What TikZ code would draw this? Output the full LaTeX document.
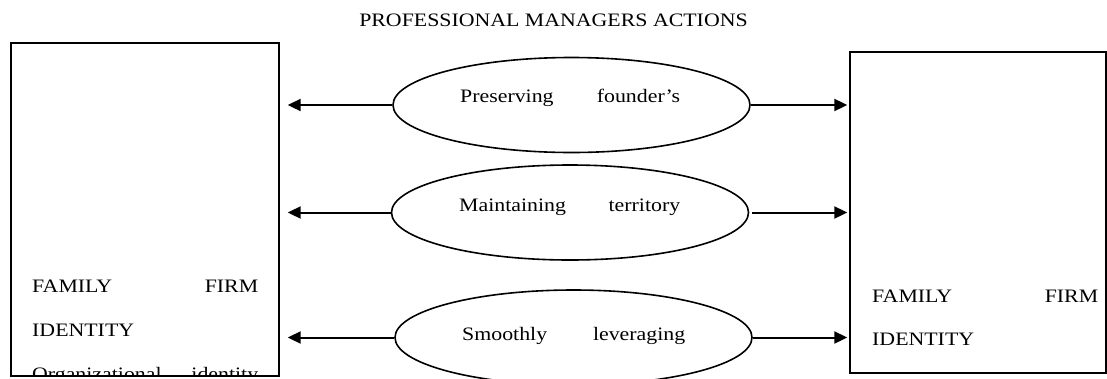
\documentclass[tikz,border=0pt]{standalone}
\usepackage{fontspec}
\setmainfont[FakeStretch=1.15]{Liberation Serif}
\usetikzlibrary{arrows.meta,shapes.geometric}
\tikzset{
  boxnode/.style={draw,line width=1.4pt,rectangle,inner sep=0pt},
  ellnode/.style={draw,line width=1.6pt,ellipse,inner sep=0pt,minimum width=357pt,minimum height=95pt},
  arr/.style={line width=2pt,-{Triangle[length=13pt,width=12pt]}},
  txt/.style={anchor=base west,inner sep=0pt,font=\fontsize{19}{22}\selectfont},
}
\begin{document}
\begin{tikzpicture}[x=1pt,y=-1pt]
\useasboundingbox (0,0) rectangle (1107,378);
\fill[white] (0,0) rectangle (1107,378);
% title
\node[txt,anchor=base] (title) at (553.5,26) {PROFESSIONAL MANAGERS ACTIONS};
% boxes
\node[boxnode,minimum width=268pt,minimum height=333pt] (L) at (145,209.5) {};
\node[boxnode,minimum width=256pt,minimum height=321pt] (R) at (978,212.5) {};
% box texts
\node[txt] (l1) at (32,292) {\hbox to 226pt{FAMILY\hfill FIRM}};
\node[txt] (l2) at (32,336) {IDENTITY};
\begin{scope}
\clip (12,44) rectangle (278,374);
\node[txt] (l3) at (32,380) {\hbox to 226pt{Organizational\hfill identity}};
\end{scope}
\node[txt] (r1) at (872,302) {\hbox to 226pt{FAMILY\hfill FIRM}};
\node[txt] (r2) at (872,345) {IDENTITY};
% ellipses
\node[ellnode] (e1) at (571.5,105) {};
\node[ellnode] (e2) at (570,212.5) {};
\begin{scope}
\clip (0,0) rectangle (1107,378);
\node[ellnode] (e3) at (573.5,337.5) {};
\end{scope}
\node[txt] (t1) at (460,102) {\hbox to 220pt{Preserving\hfill founder's}};
\node[txt] (t2) at (459,211) {\hbox to 221pt{Maintaining\hfill territory}};
\node[txt] (t3) at (462,340) {\hbox to 223pt{Smoothly\hfill leveraging}};
% arrows
\draw[arr] (e1.west) -- ([xshift=8pt]L.east |- e1.west);
\draw[arr] (e2.west) -- ([xshift=8pt]L.east |- e2.west);
\draw[arr] (e3.west) -- ([xshift=8pt]L.east |- e3.west);
\draw[arr] (e1.east) -- ([xshift=-2pt]R.west |- e1.east);
\draw[arr] ([xshift=3pt]e2.east) -- ([xshift=-2pt]R.west |- e2.east);
\draw[arr] (e3.east) -- ([xshift=-2pt]R.west |- e3.east);
\end{tikzpicture}
\end{document}
